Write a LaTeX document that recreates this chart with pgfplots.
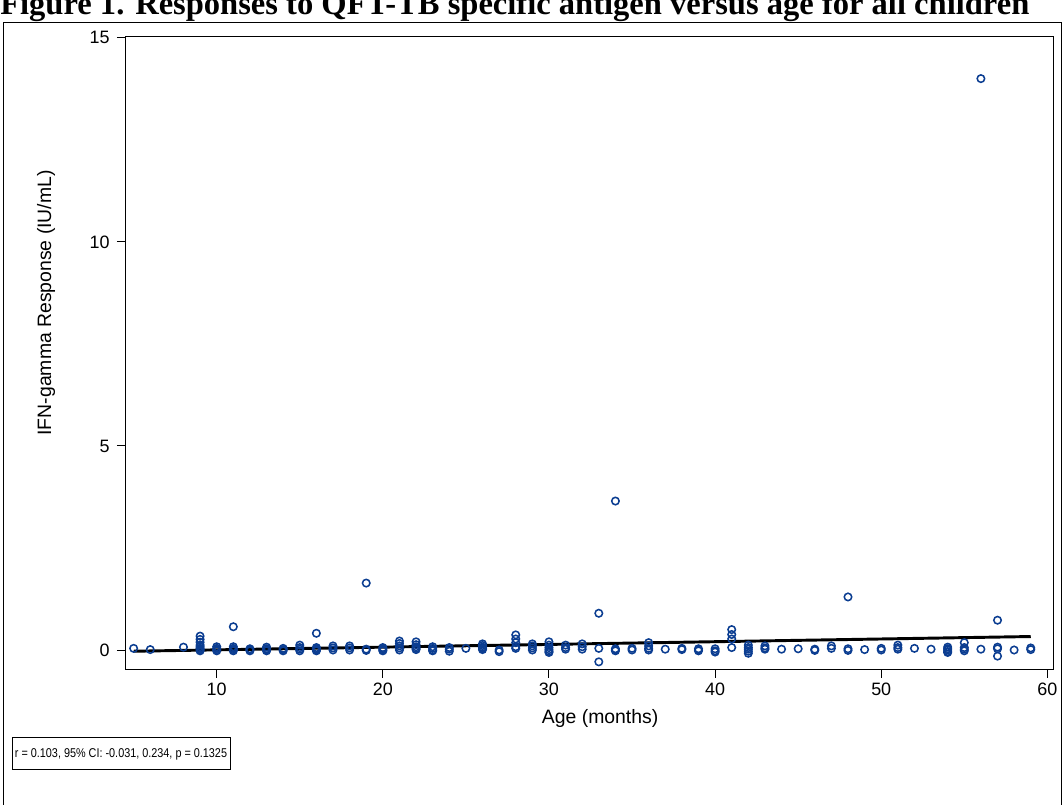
\documentclass[border=0pt]{standalone}
\usepackage{fontspec}
\setmainfont{Liberation Sans}
\newfontfamily\titlefont{Liberation Serif}
\newfontfamily\notefont[FakeStretch=0.85]{Liberation Sans}
\usepackage{pgfplots}
\usepackage{pgfplotstable}
\pgfplotsset{compat=1.18}

\definecolor{sasblue}{HTML}{0B3D91}

% age (months), IFN-gamma response (IU/mL)
\pgfplotstableread{
age resp
5 0.04
6 0.01
8 0.07
9 0.34
9 0.26
9 0.19
9 0.12
9 0.08
9 0.04
9 0.01
9 -0.02
10 0.08
10 0.04
10 0.01
10 -0.02
11 0.57
11 0.08
11 0.04
11 0.01
11 -0.02
12 0.03
12 0.00
12 -0.02
13 0.07
13 0.03
13 0.00
13 -0.02
14 0.04
14 0.01
14 -0.02
15 0.12
15 0.06
15 0.02
15 -0.02
16 0.41
16 0.06
16 0.03
16 0.00
16 -0.02
17 0.10
17 0.05
17 0.00
18 0.10
18 0.05
18 0.00
19 1.64
19 0.02
19 -0.01
20 0.06
20 0.03
20 0.00
20 -0.02
21 0.22
21 0.16
21 0.10
21 0.05
21 0.00
22 0.20
22 0.13
22 0.08
22 0.04
22 0.01
23 0.08
23 0.04
23 0.00
23 -0.02
24 0.06
24 0.02
24 -0.03
25 0.04
26 0.15
26 0.11
26 0.07
26 0.04
26 0.01
27 0.00
27 -0.04
28 0.37
28 0.27
28 0.18
28 0.08
28 0.04
29 0.15
29 0.10
29 0.05
29 0.00
30 0.20
30 0.12
30 0.06
30 0.01
30 -0.03
30 -0.06
31 0.12
31 0.06
31 0.02
32 0.15
32 0.08
32 0.02
33 0.90
33 0.04
33 -0.29
34 3.65
34 0.03
34 0.00
34 -0.02
35 0.04
35 0.00
36 0.18
36 0.10
36 0.04
36 0.00
37 0.02
38 0.04
38 0.01
39 0.03
39 0.00
39 -0.02
40 0.03
40 -0.02
40 -0.05
41 0.50
41 0.38
41 0.27
41 0.06
42 0.12
42 0.06
42 0.02
42 -0.03
42 -0.08
43 0.10
43 0.05
43 0.02
44 0.02
45 0.03
46 0.02
46 -0.01
47 0.10
47 0.04
48 1.30
48 0.03
48 -0.01
49 0.01
50 0.04
50 0.00
51 0.12
51 0.06
51 0.02
52 0.04
53 0.02
54 0.07
54 0.03
54 0.00
54 -0.04
54 -0.06
55 0.18
55 0.06
55 0.02
55 -0.02
56 14.00
56 0.02
57 0.73
57 0.07
57 0.03
57 -0.15
58 0.00
59 0.05
59 0.01
}\resptable

% fitted line, end points
\pgfplotstableread{
age resp
5 -0.03
59 0.33
}\fittable

\begin{document}
\begin{tikzpicture}
\useasboundingbox (0,0) rectangle (797.25bp,603.75bp);
% figure caption, its top cut off by the page edge as in the source
\node[anchor=base west,inner sep=0pt,font=\titlefont\bfseries\fontsize{24.5}{28}\selectfont]
  at (0bp,592.5bp) {Figure 1. Responses to QFT-TB specific antigen versus age for all children};
% graph border
\draw[line width=0.75bp] (2.25bp,-5bp) rectangle (795.75bp,586.5bp);
\begin{axis}[
    at={(93.75bp,101.25bp)},
    anchor=south west,
    scale only axis,
    width=696bp,
    height=474.75bp,
    xmin=4.48, xmax=60.34,
    ymin=-0.49, ymax=15.02,
    xtick={10,20,30,40,50,60},
    ytick={0,5,10,15},
    tick align=outside,
    xtick pos=left,
    ytick pos=left,
    major tick length=6bp,
    axis line style={line width=0.75bp},
    every tick/.style={line width=0.75bp,black},
    /pgf/number format/assume math mode=true,
    ticklabel style={font=\fontsize{13.5}{15}\selectfont},
    yticklabel style={xshift=-2bp},
    xlabel={Age (months)},
    ylabel={IFN-gamma Response (IU/mL)},
    label style={font=\fontsize{14.6}{16}\selectfont},
    xlabel style={at={(axis description cs:0.512,-0.076)},anchor=center},
    ylabel style={at={(axis description cs:-0.085,0.58)},anchor=center},
    clip=false,
]
\addplot[only marks, mark=o, mark size=2.8bp, sasblue, mark options={line width=1.15bp}]
  table[x=age,y=resp] {\resptable};
\addplot[black, line width=2.2bp] table[x=age,y=resp] {\fittable};
\end{axis}
% statistics box
\node[draw, line width=0.75bp, minimum width=163.5bp, minimum height=24bp, inner sep=0pt,
  font=\notefont\fontsize{9.6}{11}\selectfont]
  at (90.75bp,38.25bp) {r = 0.103, 95\% CI: -0.031, 0.234, p = 0.1325};
\end{tikzpicture}
\end{document}
